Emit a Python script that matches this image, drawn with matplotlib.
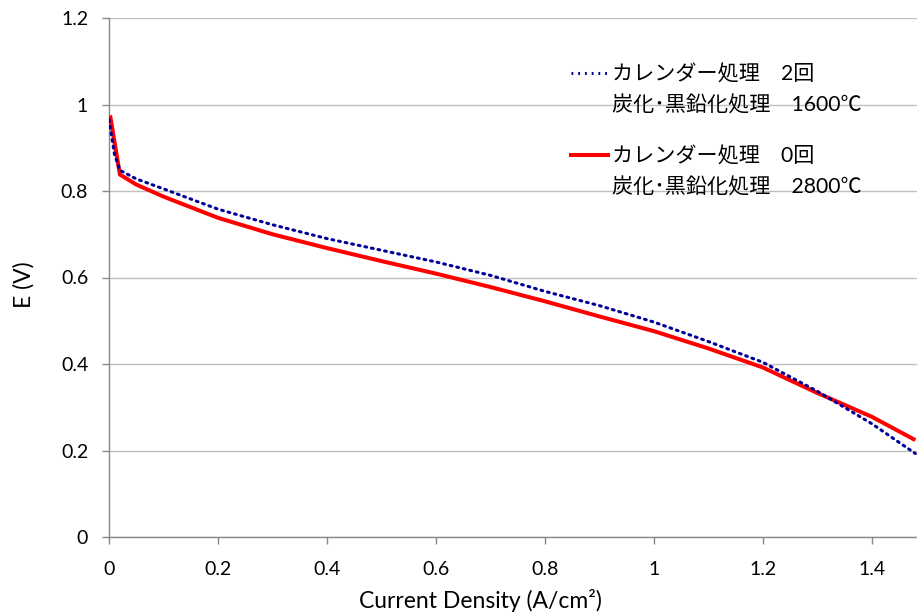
import matplotlib
matplotlib.use("Agg")
import matplotlib.pyplot as plt
from matplotlib.lines import Line2D

# Data
x_blue = [0.0, 0.005, 0.01, 0.02, 0.05, 0.1, 0.2, 0.3, 0.4, 0.5, 0.6, 0.7, 0.8, 0.9, 1.0, 1.1, 1.2, 1.3, 1.4, 1.48]
y_blue = [0.965, 0.925, 0.885, 0.848, 0.828, 0.805, 0.758, 0.722, 0.690, 0.663, 0.636, 0.605, 0.568, 0.535, 0.497, 0.452, 0.404, 0.337, 0.262, 0.193]
x_red = [0.002, 0.02, 0.05, 0.1, 0.2, 0.3, 0.4, 0.5, 0.6, 0.7, 0.8, 0.9, 1.0, 1.1, 1.2, 1.3, 1.4, 1.48]
y_red = [0.975, 0.838, 0.815, 0.787, 0.738, 0.700, 0.668, 0.638, 0.609, 0.578, 0.545, 0.510, 0.476, 0.436, 0.392, 0.333, 0.278, 0.224]
label_blue = ["カレンダー処理　2回", "炭化･黒鉛化処理　1600℃"]
label_red = ["カレンダー処理　0回", "炭化･黒鉛化処理　2800℃"]
x_ticks = [0, 0.2, 0.4, 0.6, 0.8, 1.0, 1.2, 1.4]
x_ticklabels = ["0", "0.2", "0.4", "0.6", "0.8", "1", "1.2", "1.4"]
y_ticks = [0, 0.2, 0.4, 0.6, 0.8, 1.0, 1.2]
y_ticklabels = ["0", "0.2", "0.4", "0.6", "0.8", "1", "1.2"]

fam = ["Lato", "Noto Sans CJK JP", "DejaVu Sans"]
plt.rcParams['font.family'] = fam

fig = plt.figure(figsize=(9.17, 6.15), dpi=100)
ax = fig.add_axes([109/917, 78/615, 1 - 109/917, (537-18)/615])

ax.plot(x_red, y_red, color="#ff0000", lw=2.9, solid_capstyle="butt", zorder=3)
ax.plot(x_blue, y_blue, color="#000099", lw=2.2, linestyle=(0, (0.6, 1.6)), dash_capstyle="round", zorder=4)

ax.set_xlim(0, 1.483)
ax.set_ylim(0, 1.2)
ax.set_xticks(x_ticks)
ax.set_xticklabels(x_ticklabels)
ax.set_yticks(y_ticks)
ax.set_yticklabels(y_ticklabels)
ax.yaxis.grid(True, color="#c0c0c0", lw=1.0)
ax.set_axisbelow(True)
for s in ["top", "right"]:
    ax.spines[s].set_visible(False)
for s in ["left", "bottom"]:
    ax.spines[s].set_color("#888888")
    ax.spines[s].set_linewidth(1.0)
ax.tick_params(axis="both", direction="out", length=5, width=1, color="#888888",
               labelsize=14, labelcolor="#000000")
ax.tick_params(axis="x", pad=12)
ax.tick_params(axis="y", pad=10)
ax.set_xlabel("Current Density (A/cm²)", fontsize=16.5)
ax.xaxis.set_label_coords((480 - 109) / 808, -(600 - 537) / 519, transform=ax.transAxes)
ax.xaxis.label.set_va("center")
ax.set_ylabel("E (V)", fontsize=16.5)
ax.yaxis.set_label_coords(-(109 - 24) / 808, (537 - 285) / 519, transform=ax.transAxes)
ax.yaxis.label.set_va("center")

def make_legend(color, ls, lw, labels, y_top):
    h1 = Line2D([], [], color=color, linestyle=ls, lw=lw)
    h2 = Line2D([], [], color="none")
    leg = ax.legend([h1, h2], labels, loc="upper left", bbox_to_anchor=(571/917, 1 - y_top/615),
                    bbox_transform=fig.transFigure, frameon=False, fontsize=15.2,
                    handlelength=1.75, handletextpad=0.18, labelspacing=0.55, borderpad=0, borderaxespad=0)
    return leg

leg1 = make_legend("#000099", (0, (0.6, 1.6)), 2.2, label_blue, 64)
ax.add_artist(leg1)
leg2 = make_legend("#ff0000", "-", 2.9, label_red, 146)

fig.savefig("out.png", dpi=100)
